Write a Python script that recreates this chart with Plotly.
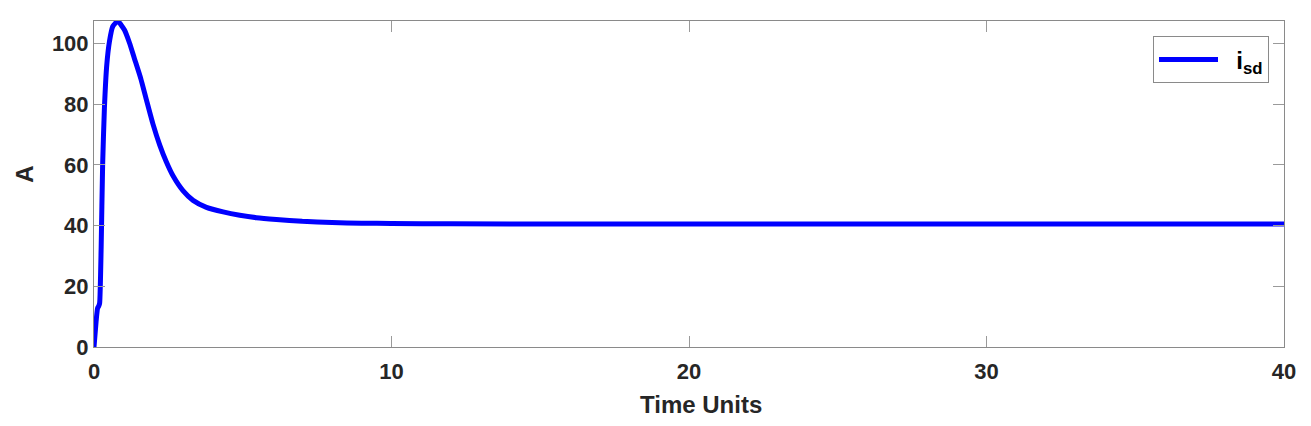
import plotly.graph_objects as go

# time axis and i_sd current
time_units = [0, 0.07, 0.12, 0.16, 0.19, 0.24, 0.29, 0.35, 0.43, 0.52, 0.63,
              0.8, 1.02, 1.2, 1.36, 1.57, 1.76, 1.98, 2.21, 2.43, 2.66, 2.99,
              3.33, 3.78, 4.34, 4.9, 5.46, 6.13, 7, 8, 9, 10, 12, 16, 20, 30, 40]
i_sd = [0, 8.4, 12.8, 13.5, 14.5, 32.6, 60, 78.7, 93, 100.7, 105.6,
        107.3, 104.5, 100, 95, 88.5, 81.5, 73.5, 66.5, 61, 56.3, 51.5,
        48.3, 46, 44.5, 43.4, 42.6, 42, 41.4, 41, 40.8, 40.7, 40.6, 40.5,
        40.5, 40.5, 40.5]

x_ticks = [0, 10, 20, 30, 40]
y_ticks = [0, 20, 40, 60, 80, 100]

font_family = "Liberation Sans, Arial, sans-serif"
text_color = "#262626"
bold = dict(family=font_family, color=text_color, weight="bold")

fig = go.Figure()
fig.add_trace(go.Scatter(
    x=time_units,
    y=i_sd,
    mode="lines",
    name="&nbsp;&nbsp;i<sub>sd</sub>",
    line=dict(color="#0000ff", width=5, shape="spline", smoothing=0.5),
))

axis_style = dict(
    showgrid=False,
    zeroline=False,
    showline=True,
    linecolor="#8a8a8a",
    linewidth=1,
    mirror="ticks",
    ticks="inside",
    ticklen=11,
    tickwidth=1,
    tickcolor="#9a9a9a",
    tickfont=dict(size=22, **bold),
)

fig.update_layout(
    width=1311,
    height=426,
    margin=dict(l=94, r=27, t=21, b=79),
    paper_bgcolor="white",
    plot_bgcolor="white",
    font=dict(family=font_family, color=text_color),
    xaxis=dict(range=[0, 40], tickvals=x_ticks, ticklabelstandoff=5, **axis_style),
    yaxis=dict(range=[0, 107.4], tickvals=y_ticks, **axis_style),
    showlegend=True,
    legend=dict(
        x=0.9874,
        y=0.953,
        xanchor="right",
        yanchor="top",
        bgcolor="white",
        bordercolor="#8a8a8a",
        borderwidth=1,
        itemwidth=59,
        font=dict(family=font_family, size=24, color="#000000", weight="bold"),
    ),
)

# axis titles
fig.add_annotation(text="Time Units", xref="paper", yref="paper", x=0.5097, y=0,
                   xanchor="center", yanchor="middle", yshift=-57,
                   showarrow=False, font=dict(size=24, **bold))
fig.add_annotation(text="A", xref="paper", yref="paper", x=0, y=0.5285,
                   xanchor="center", yanchor="middle", xshift=-69, textangle=-90,
                   showarrow=False, font=dict(size=24, **bold))

# drop the default page margin so the figure sits at the window corner
fig.write_html("out.html", config={"displayModeBar": False},
               post_script="document.body.style.margin = '0';")
